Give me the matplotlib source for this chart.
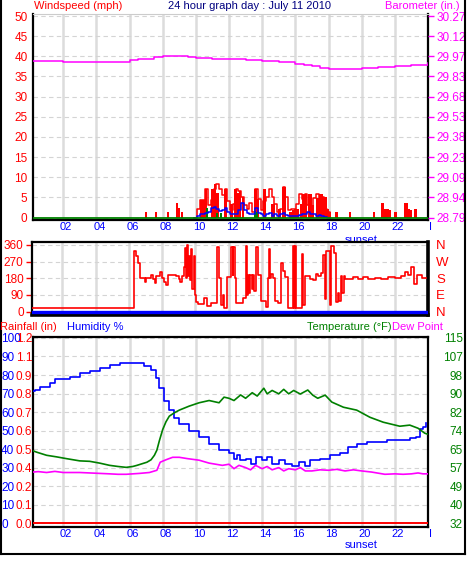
import numpy as np
import matplotlib.pyplot as plt
import matplotlib.transforms as mtrans
from matplotlib.lines import Line2D

plt.rcParams['font.family'] = ['Liberation Sans', 'DejaVu Sans']
plt.rcParams['font.size'] = 8

W, H = 467, 566

# ---------------- data ----------------
hour_ticks = [2, 4, 6, 8, 10, 12, 14, 16, 18, 20, 22, 24]
hour_labels = ['02', '04', '06', '08', '10', '12', '14', '16', '18', '20', '22', 'I']

wind_ticks = [0, 5, 10, 15, 20, 25, 30, 35, 40, 45, 50]
baro_labels = ['28.79', '28.94', '29.09', '29.23', '29.38', '29.53',
               '29.68', '29.83', '29.97', '30.12', '30.27']

# gusts (filled bars), mph
gust_hours = [6.99, 7.59, 8.31, 8.86, 8.96, 9.16, 10.3, 10.45, 10.6, 11.0,
              11.15, 11.3, 11.8, 12.15, 12.4, 12.5, 12.65, 12.85, 13.6, 13.72,
              14.15, 14.62, 14.72, 15.05, 15.25, 15.35, 15.7, 15.85, 16.0, 16.15,
              16.33, 16.5, 16.62, 16.85, 16.95, 17.05, 17.35, 17.5, 17.6, 17.75,
              17.85, 17.98, 18.07, 18.48, 19.3, 20.73, 21.25, 21.4, 21.55, 21.7,
              22.05, 22.6, 22.72, 22.85, 22.95, 23.25]
gust_vals = [1.3, 1.3, 1.3, 3.5, 2.5, 1.3, 4.4, 4.4, 7, 7,
             8.4, 6, 7, 3.4, 7, 6, 6.5, 5, 7, 4.6,
             7, 3.4, 3.4, 2.2, 7.6, 7.6, 1.3, 1.8, 2.2, 2.2,
             3.4, 5.9, 5.9, 5.9, 5.9, 3.2, 4.9, 5.9, 5.9, 5,
             5, 2.2, 1.3, 1.3, 1.3, 1.3, 3.7, 2.2, 2.2, 1.8,
             1.3, 3.7, 3.7, 2.2, 1.8, 2.2]

# 10 minute samples through the windy part of the day
active_hours = [9.9, 10.07, 10.23, 10.4, 10.57, 10.73, 10.9, 11.07, 11.23, 11.4,
                11.57, 11.73, 11.9, 12.07, 12.23, 12.4, 12.57, 12.73, 12.9, 13.07,
                13.23, 13.4, 13.57, 13.73, 13.9, 14.07, 14.23, 14.4, 14.57, 14.73,
                14.9, 15.07, 15.23, 15.4, 15.57, 15.73, 15.9, 16.07, 16.23, 16.4,
                16.57, 16.73, 16.9, 17.07, 17.23, 17.4, 17.57, 17.73, 17.9, 18.07]
wind_peak = [0, 2.2, 4.4, 4.4, 7, 3, 4.4, 7, 8.4, 7,
             5.5, 7, 4, 2, 3.4, 7, 6.5, 5, 3, 2.2,
             3.5, 1.5, 7, 4.6, 2, 4, 5, 7, 5, 3.4,
             1.5, 2.2, 7.6, 5, 2, 2.2, 2.2, 3.4, 5.9, 4.7,
             5.9, 3.2, 2.2, 4.9, 5.9, 3, 5, 2.2, 1.3, 0]
wind_speed = [0, 0.5, 0.8, 0.8, 1.2, 1.5, 2.3, 2.6, 2.2, 1.6,
              2.0, 2.4, 1.4, 0.8, 1.0, 0.9, 2.0, 3.7, 2.0, 1.2,
              1.0, 0.8, 2.5, 1.2, 0.8, 0.5, 0.8, 1.2, 0.5, 0.8,
              0.3, 0.8, 1.2, 0.6, 0.3, 0.5, 0.5, 0.5, 0.6, 1.0,
              1.0, 1.3, 0.8, 1.0, 0.5, 0.6, 0.3, 0.2, 0, 0]

avg_hours = [10.66, 11.27, 11.5, 13.55, 13.67]
avg_vals = [2.3, 1.1, 1.1, 1.6, 1.3]

baro_hours = [0.18, 1, 2, 3, 4, 5, 5.5, 6, 6.5, 7,
              7.5, 8, 8.5, 9, 9.5, 10, 11, 12, 13, 14,
              15, 16, 16.5, 17, 17.5, 18, 19, 20, 21, 22,
              23, 24]
baro_vals = [29.94, 29.94, 29.933, 29.933, 29.93, 29.93, 29.933, 29.95, 29.955, 29.958,
             29.97, 29.977, 29.98, 29.973, 29.97, 29.962, 29.958, 29.955, 29.948, 29.94,
             29.93, 29.918, 29.908, 29.9, 29.889, 29.881, 29.881, 29.885, 29.896, 29.903,
             29.91, 29.926]

# wind direction, degrees
dir_ticks = [0, 90, 180, 270, 360]
dir_labels = ['N', 'E', 'S', 'W', 'N']
dir_hours = [0.18, 6.3, 6.33, 6.45, 6.55, 6.65, 6.95, 7.05, 7.35, 7.45,
             7.55, 7.65, 7.85, 8.0, 8.1, 8.25, 8.35, 8.85, 9.0, 9.1,
             9.2, 9.3, 9.38, 9.42, 9.5, 9.56, 9.62, 9.68, 9.75, 9.82,
             9.9, 9.97, 10.05, 10.15, 10.55, 10.7, 10.95, 11.3, 11.45, 11.55,
             11.65, 11.75, 11.9, 12.15, 12.25, 12.3, 12.38, 12.45, 12.9, 13.05,
             13.12, 13.2, 13.25, 13.32, 13.4, 13.45, 13.55, 13.68, 13.78, 13.95,
             14.25, 14.38, 14.45, 14.5, 14.58, 14.68, 14.78, 14.98, 15.18, 15.28,
             15.38, 15.58, 15.85, 15.92, 15.98, 16.06, 16.42, 16.5, 16.62, 16.9,
             17.1, 17.28, 17.4, 17.58, 17.68, 17.78, 17.88, 18.08, 18.18, 18.35,
             18.45, 18.58, 18.65, 18.75, 18.85, 18.95, 19.0, 19.5, 19.8, 20.1,
             20.4, 20.8, 21.2, 21.6, 22.0, 22.4, 22.6, 22.8, 23.0, 23.15,
             23.35, 23.65, 23.9]
dir_vals = [18, 18, 327, 300, 260, 180, 160, 180, 196, 175,
            155, 190, 214, 180, 160, 142, 200, 195, 175, 160,
            190, 242, 343, 180, 360, 190, 300, 170, 340, 120,
            300, 90, 50, 40, 72, 30, 45, 348, 180, 35,
            90, 20, 188, 350, 200, 350, 180, 45, 75, 355,
            90, 200, 100, 200, 120, 200, 110, 350, 200, 55,
            25, 180, 340, 180, 205, 180, 55, 45, 265, 220,
            185, 20, 355, 20, 355, 20, 310, 35, 190, 175,
            170, 205, 190, 210, 305, 70, 330, 35, 355, 315,
            50, 100, 60, 190, 100, 190, 178, 185, 178, 185,
            175, 180, 175, 185, 180, 190, 214, 200, 241, 151,
            200, 180, 180]

hum_ticks = [0, 10, 20, 30, 40, 50, 60, 70, 80, 90, 100]
rain_labels = ['0.0', '0.1', '0.2', '0.4', '0.5', '0.6', '0.7', '0.8', '0.9', '1.1', '1.2']
temp_labels = ['32', '40', '49', '57', '65', '74', '82', '90', '98', '107', '115']

hum_hours = [0.18, 0.3, 0.6, 1.2, 1.5, 2.4, 3.0, 3.6, 4.2, 4.8,
             5.4, 6.6, 6.9, 7.3, 7.6, 7.8, 8.1, 8.4, 8.7, 9.0,
             9.6, 10.2, 10.8, 11.4, 12.0, 12.3, 12.5, 12.65, 13.0, 13.3,
             13.6, 14.0, 14.3, 14.6, 15.0, 15.4, 15.8, 16.2, 16.6, 16.9,
             17.5, 18.1, 18.7, 19.2, 19.7, 20.3, 21.5, 22.9, 23.3, 23.5,
             23.7, 23.9]
hum_vals = [71.4, 72, 73.7, 75.6, 78, 79, 80.9, 82.4, 84, 85.4,
            86.6, 86.6, 85, 82.7, 78.4, 73, 66, 61, 57, 53.5,
            50, 46.5, 43, 39.5, 38, 35, 37, 34, 35, 32,
            36, 34, 36, 32, 34, 32, 31, 33, 31, 34,
            35, 37, 38, 41, 43, 44, 45, 46, 46.5, 51,
            52, 54]

temp_hours = [0.18, 0.4, 1.0, 1.6, 2.2, 3.0, 3.6, 4.2, 4.8, 5.3,
              5.8, 6.2, 6.45, 7.05, 7.3, 7.5, 7.65, 7.8, 8.0, 8.2,
              8.4, 8.7, 9.0, 9.6, 10.2, 10.8, 11.4, 11.7, 12.0, 12.3,
              12.7, 13.0, 13.4, 13.7, 14.1, 14.3, 14.6, 15.0, 15.3, 15.6,
              15.9, 16.3, 16.75, 17.05, 17.35, 17.8, 18.2, 18.9, 19.7, 20.5,
              21.3, 22.3, 22.9, 23.4, 23.8, 23.95]
temp_vals = [64.5, 63.9, 62.5, 61.8, 61, 60, 59.8, 59, 58, 57.5,
             57.1, 57.5, 58, 59.4, 60.5, 62.5, 64.8, 69, 74, 77.5,
             80, 81.5, 82.7, 84.5, 86, 87, 86, 88.5, 88, 87,
             89.5, 88, 90.5, 89, 92.5, 90, 91.5, 90, 92, 90,
             91.5, 89.9, 91.7, 89.4, 88, 89.4, 86.3, 84, 82.7, 79.5,
             77.3, 75.5, 76, 74.6, 72.4, 72]

dew_hours = [0.18, 0.5, 1.0, 1.5, 2.0, 3.0, 4.2, 4.8, 5.3, 5.8,
             6.6, 7.2, 7.65, 7.85, 8.2, 8.6, 9.0, 9.5, 10.2, 10.8,
             11.6, 12.0, 12.3, 12.6, 13.0, 13.3, 13.6, 14.0, 14.3, 14.6,
             15.0, 15.3, 15.6, 16.0, 16.3, 16.6, 17.0, 17.5, 18.0, 18.5,
             19.0, 19.5, 20.0, 20.6, 21.4, 22.0, 22.5, 23.0, 23.4, 23.7,
             23.95]
dew_vals = [55, 55.2, 54.8, 55.3, 54.8, 54.8, 54.4, 54.2, 54.0, 54.0,
            54.4, 54.8, 55.8, 59.4, 60.5, 61.6, 61.6, 61, 60.3, 59,
            58, 58.5, 56.5, 58, 57, 56, 58, 56.5, 57.5, 56,
            57, 55.5, 56.5, 56, 57, 55.5, 55.5, 56, 55.8, 56.2,
            55.5, 56, 55.5, 55, 54, 54.2, 54, 54.2, 54.6, 54.2,
            54.2]

rain_hours = [0.18, 24]
rain_vals = [0.0, 0.0]

# ---------------- drawing ----------------
RED, BLUE, GREEN, MAG, NAVY = '#ff0000', '#0000ff', '#008000', '#ff00ff', '#000080'
GRID = '#dcdcdc'
XMIN, XMAX = 0.18, 23.98

fig = plt.figure(figsize=(W / 100, H / 100), dpi=100)


def axes_px(x0, y0, x1, y1):
    return fig.add_axes([x0 / W, 1 - y1 / H, (x1 - x0) / W, (y1 - y0) / H])


def fig_text(x, y, s, color, ha='left'):
    fig.text(x / W, 1 - y / H, s, color=color, ha=ha, va='center', fontsize=8)


def hour_grid(ax, labels=True):
    ax.set_xlim(XMIN, XMAX)
    ax.set_xticks(hour_ticks)
    ax.xaxis.grid(True, color=GRID, lw=1.8, zorder=0)
    ax.yaxis.grid(True, color='#d4d4d4', lw=0.8, ls=(0, (4, 3)), zorder=0)
    ax.set_axisbelow(True)
    ax.tick_params(axis='x', length=0, pad=1.5, labelcolor=BLUE, labelsize=8)
    if labels:
        ax.set_xticklabels(hour_labels)
        off = mtrans.ScaledTranslation(3 / 100, 0, fig.dpi_scale_trans)
        for lab in ax.get_xticklabels():
            lab.set_transform(lab.get_transform() + off)
    else:
        ax.set_xticklabels([])


# --- top: wind + barometer ---
ax1 = axes_px(33, 14, 428, 220)
hour_grid(ax1)
ax1.set_ylim(-0.6, 50.5)
ax1.set_yticks(wind_ticks)
ax1.tick_params(axis='y', length=0, pad=4, labelcolor=RED, labelsize=8.5)
ax1.bar(gust_hours, gust_vals, width=0.15, color=RED, zorder=2)
ax1.step(active_hours, wind_peak, where='post', color=RED, lw=1.1, zorder=3)
ax1.bar(avg_hours, avg_vals, width=0.12, color=GREEN, zorder=3)
ax1.step(active_hours, wind_speed, where='post', color=BLUE, lw=1.1, zorder=4)
ax1.axhline(0, color=GREEN, lw=1.3, zorder=5)
for s in ['left', 'bottom', 'right']:
    ax1.spines[s].set_linewidth(1.6)
ax1.spines['top'].set_color('#cccccc')
ax1.text(20, -0.073, 'sunset', transform=ax1.get_xaxis_transform(),
         color=BLUE, ha='center', va='top', fontsize=8)

bx = ax1.twinx()
bx.set_ylim(28.79 - 0.6 * 0.0296, 28.79 + 50.5 * 0.0296)
bx.set_yticks(28.79 + np.arange(len(baro_labels)) * 0.148)
bx.set_yticklabels(baro_labels)
bx.tick_params(axis='y', colors=MAG, length=4, width=1, pad=2, labelsize=8.5)
bx.plot(baro_hours, baro_vals, color=MAG, lw=1.1, drawstyle='steps-post')
for s in bx.spines.values():
    s.set_visible(False)

# --- middle: wind direction ---
ax2 = axes_px(32, 242, 428, 315)
hour_grid(ax2, labels=False)
ax2.set_ylim(-18, 376)
ax2.set_yticks(dir_ticks)
ax2.tick_params(axis='y', colors=RED, length=4, width=1, pad=2, labelsize=8.5)
ax2.plot(dir_hours, dir_vals, color=RED, lw=1.2, drawstyle='steps-post', zorder=3)
ax2.axhline(0, color=BLUE, lw=2.4, zorder=4)
for s in ['top', 'left']:
    ax2.spines[s].set_linewidth(1.6)
for s in ['bottom', 'right']:
    ax2.spines[s].set_linewidth(2.6)

dx = ax2.twinx()
dx.set_ylim(-18, 376)
dx.set_yticks(dir_ticks)
dx.set_yticklabels(dir_labels)
dx.tick_params(axis='y', length=0, pad=6, labelcolor=RED, labelsize=9.5)
for s in dx.spines.values():
    s.set_visible(False)

# --- bottom: humidity / temperature / rain ---
ax3 = axes_px(33, 337, 428, 527)
hour_grid(ax3)
ax3.set_ylim(-1.9, 100.5)
ax3.set_yticks(hum_ticks)
ax3.tick_params(axis='y', length=0, pad=23, labelcolor=BLUE, labelsize=8.5)
for lab in ax3.get_yticklabels():
    lab.set_horizontalalignment('left')
ax3.plot(hum_hours, hum_vals, color=BLUE, lw=1.2, drawstyle='steps-post', zorder=4)
for s in ax3.spines.values():
    s.set_linewidth(1.6)
ax3.text(20, -0.07, 'sunset', transform=ax3.get_xaxis_transform(),
         color=BLUE, ha='center', va='top', fontsize=8)

rx = ax3.twinx()
rx.yaxis.tick_left()
rx.set_ylim(-1.9 * 0.012, 100.5 * 0.012)
rx.set_yticks(np.array(hum_ticks) * 0.012)
rx.set_yticklabels(rain_labels)
rx.tick_params(axis='y', length=0, pad=0.5, labelcolor=RED, labelsize=8.5)
rx.plot(rain_hours, rain_vals, color=RED, lw=1.4, zorder=5)
for s in rx.spines.values():
    s.set_visible(False)

tx = ax3.twinx()
tx.set_ylim(32 - 1.9 * 0.83, 32 + 100.5 * 0.83)
tx.set_yticks(32 + np.array(hum_ticks) * 0.83)
tx.set_yticklabels(temp_labels)
tx.tick_params(axis='y', length=0, pad=25, labelcolor=GREEN, labelsize=8.5)
for lab in tx.get_yticklabels():
    lab.set_horizontalalignment('right')
tx.plot(temp_hours, temp_vals, color=GREEN, lw=1.2, zorder=3)
tx.plot(dew_hours, dew_vals, color=MAG, lw=1.2, zorder=3)
for s in tx.spines.values():
    s.set_visible(False)

# --- titles ---
fig_text(34, 6, 'Windspeed (mph)', RED)
fig_text(249, 6, '24 hour graph day : July 11 2010', NAVY, ha='center')
fig_text(460, 6, 'Barometer (in.)', MAG, ha='right')
fig_text(0, 327, 'Rainfall (in)', RED)
fig_text(67, 327, 'Humidity %', BLUE)
fig_text(392, 327, 'Temperature (\u00b0F)', GREEN, ha='right')
fig_text(392, 327, 'Dew Point', MAG)

# outer frame
for xs, ys in [([1, 1], [0, 554]), ([465, 465], [0, 554]), ([1, 465], [554, 554])]:
    fig.add_artist(Line2D([x / W for x in xs], [1 - y / H for y in ys],
                          color='black', lw=1.5, transform=fig.transFigure))

fig.savefig('out.png', dpi=100)
